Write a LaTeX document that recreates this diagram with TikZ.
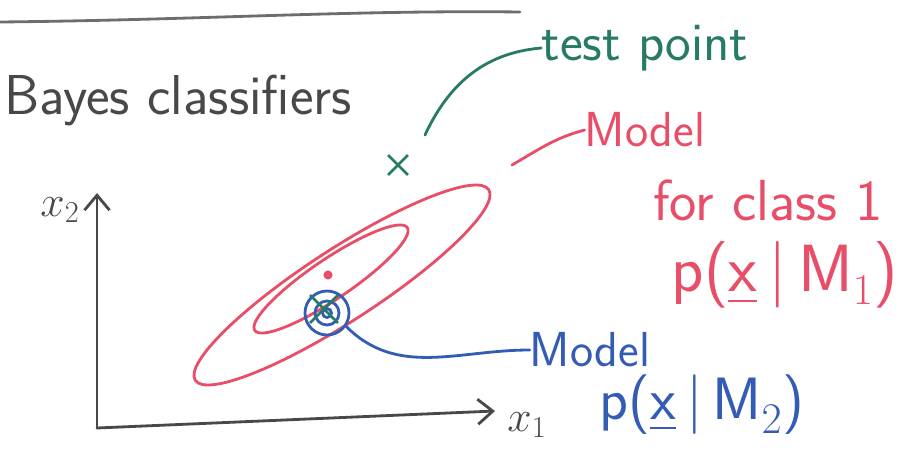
\documentclass[tikz,border=0pt]{standalone}
\usepackage{amsmath,amssymb}
\usepackage{tikz}
\usetikzlibrary{arrows.meta,shapes.misc}
\definecolor{penred}{RGB}{232,78,104}
\definecolor{pengreen}{RGB}{38,122,102}
\definecolor{penblue}{RGB}{52,92,180}
\definecolor{pengray}{RGB}{72,72,72}
\tikzset{
    pen/.style={line width=1.6pt,line cap=round},
    hand/.style={font=\sffamily\fontsize{28}{32}\selectfont,inner sep=0pt},
    formula/.style={font=\sffamily\fontsize{38}{44}\selectfont,inner sep=0pt},
    mark x/.style={cross out,draw=pengreen,line width=1.6pt,minimum size=0.34cm,inner sep=0pt}
}

\begin{document}
\begin{tikzpicture}[x=0.02cm,y=0.02cm]
    \useasboundingbox (0,0) rectangle (909,-449);
    \draw[pen,pengray!80] (0,-22) .. controls (200,-20) and (350,-10) .. (520,-12);
    \node[hand,text=pengray,font=\sffamily\fontsize{32}{38}\selectfont] (title) at (178,-100) {Bayes classifiers};
    \coordinate (origin) at (97,-428);
    \coordinate (yend) at (97,-193);
    \coordinate (xend) at (495,-411);
    \draw[pen,pengray,-{Straight Barb[length=3mm,width=5mm]}] (origin) -- (yend);
    \draw[pen,pengray,-{Straight Barb[length=3mm,width=5mm]}] (origin) -- (xend);
    \node[formula,text=pengray,font=\fontsize{24}{28}\selectfont] (xtwo) at (60,-210) {$x_2$};
    \node[formula,text=pengray,font=\fontsize{24}{28}\selectfont] (xone) at (527,-425) {$x_1$};
    \draw[pen,penred] (342,-285) ellipse [x radius=3.5cm,y radius=0.72cm,rotate=33];
    \draw[pen,penred] (331,-279) ellipse [x radius=1.84cm,y radius=0.4cm,rotate=34];
    \fill[penred] (328,-275) circle (2.6pt);
    \node[circle,draw=penblue,line width=1.6pt,minimum size=0.88cm,inner sep=0pt] (bluering) at (327,-313) {};
    \draw[pen,penblue] (bluering) circle (0.24cm);
    \draw[pen,penblue] (bluering) circle (0.09cm);
    \node[mark x,minimum size=0.5cm] (meanx) at (324,-309) {};
    \node[mark x] (testx) at (398,-165) {};
    \node[hand,text=pengreen,font=\sffamily\fontsize{31}{36}\selectfont] (testlbl) at (645,-48) {test point};
    \coordinate (testtail) at (425,-135);
    \draw[pen,pengreen] (testtail) to[out=65,in=185] (testlbl.west);
    \node[hand,text=penred] (redlbl) at (645,-130) {Model};
    \node[hand,text=penred,font=\sffamily\fontsize{33}{38}\selectfont] (redcls) at (768,-200) {for class 1};
    \node[formula,text=penred] (redp) at (785,-275) {p($\underline{\text{x}}$\,|\,M$_1$)};
    \coordinate (redtail) at (512,-165);
    \draw[pen,penred] (redtail) to[out=30,in=195] (redlbl.west);
    \node[hand,text=penblue] (bluelbl) at (590,-350) {Model};
    \node[formula,text=penblue,font=\sffamily\fontsize{34}{40}\selectfont] (bluep) at (702,-405) {p($\underline{\text{x}}$\,|\,M$_2$)};
    \draw[pen,penblue] (bluering.-35) to[out=-45,in=180] (bluelbl.west);
\end{tikzpicture}
\end{document}
